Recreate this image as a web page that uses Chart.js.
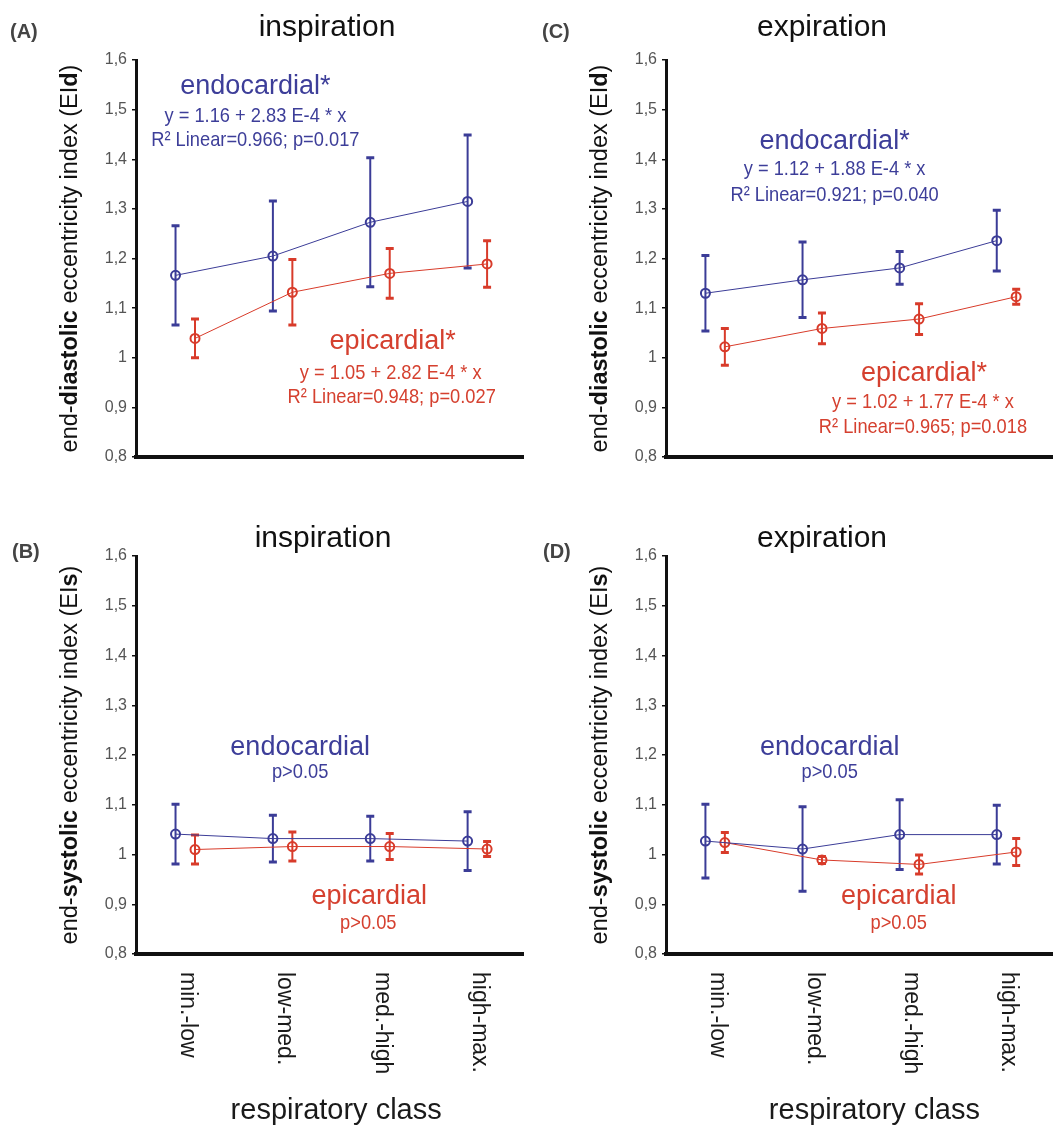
<!DOCTYPE html>
<html>
<head>
<meta charset="utf-8">
<script src="https://cdn.jsdelivr.net/npm/chart.js@4.4.1/dist/chart.umd.min.js"></script>
<style>
  html, body { margin: 0; padding: 0; background: #fff; }
  #wrap { position: relative; width: 1059px; height: 1137px; overflow: hidden; }
  canvas { position: absolute; }
</style>
</head>
<body>
<div id="wrap">
  <canvas id="chartA" width="530" height="520" style="left:0;top:0"></canvas>
  <canvas id="chartC" width="529" height="520" style="left:530px;top:0"></canvas>
  <canvas id="chartB" width="530" height="617" style="left:0;top:520px"></canvas>
  <canvas id="chartD" width="529" height="617" style="left:530px;top:520px"></canvas>
</div>
<script>
const categories = ['min.-low', 'low-med.', 'med.-high', 'high-max.'];
const yTickLabels = ['0,8', '0,9', '1', '1,1', '1,2', '1,3', '1,4', '1,5', '1,6'];

// (A) inspiration, end-diastolic
const inspDiastEndo = [1.166, 1.205, 1.273, 1.315];
const inspDiastEndoErr = [0.100, 0.111, 0.130, 0.134];
const inspDiastEpi = [1.039, 1.132, 1.170, 1.189];
const inspDiastEpiErr = [0.039, 0.066, 0.050, 0.047];

// (C) expiration, end-diastolic
const expDiastEndo = [1.130, 1.157, 1.181, 1.236];
const expDiastEndoErr = [0.076, 0.076, 0.033, 0.061];
const expDiastEpi = [1.022, 1.059, 1.078, 1.123];
const expDiastEpiErr = [0.037, 0.031, 0.031, 0.015];

// (B) inspiration, end-systolic
const inspSystEndo = [1.041, 1.032, 1.032, 1.027];
const inspSystEndoErr = [0.060, 0.047, 0.045, 0.059];
const inspSystEpi = [1.010, 1.016, 1.016, 1.011];
const inspSystEpiErr = [0.029, 0.029, 0.026, 0.015];

// (D) expiration, end-systolic
const expSystEndo = [1.027, 1.011, 1.040, 1.040];
const expSystEndoErr = [0.074, 0.085, 0.070, 0.059];
const expSystEpi = [1.024, 0.989, 0.980, 1.005];
const expSystEpiErr = [0.020, 0.007, 0.019, 0.027];

const SANS = '"Liberation Sans", Arial, Helvetica, sans-serif';
const BLUE = '#3b3c97';
const RED = '#d83b2a';
const BLUE_TXT = '#3d3e99';
const RED_TXT = '#d5402f';
const EPI_SHIFT = 0.2;    // epicardial markers sit a bit right of the category
const LABEL_SHIFT = 0.12;

function points(values, shift) {
  return values.map((v, i) => ({ x: i + 1 + shift, y: v }));
}

// vertical error bars with caps, drawn under the markers
const errorBars = {
  id: 'errorBars',
  beforeDatasetsDraw(chart) {
    const ctx = chart.ctx;
    const ys = chart.scales.y;
    chart.data.datasets.forEach((ds, i) => {
      const meta = chart.getDatasetMeta(i);
      ctx.save();
      ctx.strokeStyle = ds.borderColor;
      meta.data.forEach((pt, j) => {
        const v = ds.data[j].y, e = ds.errors[j];
        const top = ys.getPixelForValue(v + e);
        const bot = ys.getPixelForValue(v - e);
        ctx.lineWidth = 2;
        ctx.beginPath();
        ctx.moveTo(pt.x, top);
        ctx.lineTo(pt.x, bot);
        ctx.stroke();
        ctx.lineWidth = 3;
        ctx.beginPath();
        ctx.moveTo(pt.x - 4, top); ctx.lineTo(pt.x + 4, top);
        ctx.moveTo(pt.x - 4, bot); ctx.lineTo(pt.x + 4, bot);
        ctx.stroke();
      });
      ctx.restore();
    });
  }
};

function decor(cfg) {
  return {
    id: 'decor',
    afterDraw(chart) {
      const ctx = chart.ctx;
      const xs = chart.scales.x, ys = chart.scales.y;
      const area = chart.chartArea;
      ctx.save();

      ctx.fillStyle = '#444';
      ctx.font = 'bold 20px ' + SANS;
      ctx.textAlign = 'left';
      ctx.textBaseline = 'alphabetic';
      ctx.fillText(cfg.letter, cfg.letterX, cfg.letterY);

      ctx.fillStyle = '#111';
      ctx.font = '30px ' + SANS;
      ctx.textAlign = 'center';
      ctx.fillText(cfg.title, cfg.titleX, cfg.titleY);

      // y axis title, partly bold
      const parts = [['end-', ''], [cfg.kind, 'bold '], [' eccentricity index (EI', ''], [cfg.abbr, 'bold '], [')', '']];
      const size = 23.5;
      let total = 0;
      parts.forEach(p => { ctx.font = p[1] + size + 'px ' + SANS; total += ctx.measureText(p[0]).width; });
      ctx.save();
      ctx.translate(77, (area.top + area.bottom) / 2);
      ctx.rotate(-Math.PI / 2);
      ctx.textAlign = 'left';
      let cx = -total / 2;
      parts.forEach(p => {
        ctx.font = p[1] + size + 'px ' + SANS;
        ctx.fillText(p[0], cx, 0);
        cx += ctx.measureText(p[0]).width;
      });
      ctx.restore();

      // annotations
      ctx.textAlign = 'center';
      ctx.textBaseline = 'middle';
      cfg.notes.forEach(n => {
        ctx.save();
        ctx.fillStyle = n.color;
        ctx.font = n.size + 'px ' + SANS;
        ctx.translate(xs.getPixelForValue(n.x), ys.getPixelForValue(n.y));
        if (n.narrow) ctx.scale(0.87, 1);
        ctx.fillText(n.text, 0, 0);
        ctx.restore();
      });

      // category labels, rotated to read top-down
      if (cfg.xLabels) {
        ctx.fillStyle = '#1a1a1a';
        ctx.font = '23px ' + SANS;
        ctx.textAlign = 'left';
        ctx.textBaseline = 'middle';
        categories.forEach((c, i) => {
          ctx.save();
          ctx.translate(xs.getPixelForValue(i + 1 + LABEL_SHIFT), area.bottom + 18);
          ctx.rotate(Math.PI / 2);
          ctx.fillText(c, 0, 0);
          ctx.restore();
        });
        ctx.font = '29px ' + SANS;
        ctx.textAlign = 'center';
        ctx.textBaseline = 'alphabetic';
        ctx.fillText('respiratory class', xs.getPixelForValue(cfg.xTitleAt), 599);
      }
      ctx.restore();
    }
  };
}

function makePanel(id, endo, endoErr, epi, epiErr, cfg) {
  const top = cfg.xLabels ? 36 : 60;
  const bottom = cfg.xLabels ? 183 : 63;
  return new Chart(document.getElementById(id), {
    type: 'line',
    data: {
      datasets: [
        {
          label: 'endocardial',
          data: points(endo, 0),
          errors: endoErr,
          borderColor: BLUE,
          borderWidth: 1,
          pointRadius: 4.5,
          pointBorderWidth: 2,
          pointBackgroundColor: 'rgba(0,0,0,0)',
          pointBorderColor: BLUE,
          tension: 0
        },
        {
          label: 'epicardial',
          data: points(epi, EPI_SHIFT),
          errors: epiErr,
          borderColor: RED,
          borderWidth: 1,
          pointRadius: 4.5,
          pointBorderWidth: 2,
          pointBackgroundColor: 'rgba(0,0,0,0)',
          pointBorderColor: RED,
          tension: 0
        }
      ]
    },
    options: {
      responsive: false,
      animation: false,
      devicePixelRatio: 1,
      layout: { padding: { top: top, bottom: bottom, left: 0, right: 2 } },
      plugins: { legend: { display: false }, tooltip: { enabled: false } },
      scales: {
        x: {
          type: 'linear',
          min: 0.594,
          max: 4.574,
          ticks: { display: false },
          grid: { display: false, drawTicks: false },
          border: { display: true, color: '#111', width: 4 },
          afterFit: s => { s.height = 0; }
        },
        y: {
          min: 0.8,
          max: 1.6,
          ticks: {
            stepSize: 0.1,
            color: '#555',
            padding: 5,
            font: { family: SANS, size: 16 },
            callback: v => yTickLabels[Math.round(v * 10) - 8]
          },
          grid: { drawOnChartArea: false, drawTicks: true, tickLength: 4, color: '#111', lineWidth: 1.5 },
          border: { display: true, color: '#111', width: 3 },
          afterFit: s => { s.width = 136; }
        }
      }
    },
    plugins: [errorBars, decor(cfg)]
  });
}

makePanel('chartA', inspDiastEndo, inspDiastEndoErr, inspDiastEpi, inspDiastEpiErr, {
  letter: '(A)', letterX: 10, letterY: 38,
  title: 'inspiration', titleX: 327, titleY: 36,
  kind: 'diastolic', abbr: 'd', xLabels: false,
  notes: [
    { text: 'endocardial*', x: 1.82, y: 1.546, size: 27, color: BLUE_TXT },
    { text: 'y = 1.16 + 2.83 E-4 * x', x: 1.82, y: 1.487, size: 21, color: BLUE_TXT, narrow: true },
    { text: 'R² Linear=0.966; p=0.017', x: 1.82, y: 1.439, size: 21, color: BLUE_TXT, narrow: true },
    { text: 'epicardial*', x: 3.23, y: 1.032, size: 27, color: RED_TXT },
    { text: 'y = 1.05 + 2.82 E-4 * x', x: 3.21, y: 0.969, size: 21, color: RED_TXT, narrow: true },
    { text: 'R² Linear=0.948; p=0.027', x: 3.22, y: 0.921, size: 21, color: RED_TXT, narrow: true }
  ]
});

makePanel('chartC', expDiastEndo, expDiastEndoErr, expDiastEpi, expDiastEpiErr, {
  letter: '(C)', letterX: 12, letterY: 38,
  title: 'expiration', titleX: 292, titleY: 36,
  kind: 'diastolic', abbr: 'd', xLabels: false,
  notes: [
    { text: 'endocardial*', x: 2.33, y: 1.435, size: 27, color: BLUE_TXT },
    { text: 'y = 1.12 + 1.88 E-4 * x', x: 2.33, y: 1.379, size: 21, color: BLUE_TXT, narrow: true },
    { text: 'R² Linear=0.921; p=0.040', x: 2.33, y: 1.328, size: 21, color: BLUE_TXT, narrow: true },
    { text: 'epicardial*', x: 3.25, y: 0.969, size: 27, color: RED_TXT },
    { text: 'y = 1.02 + 1.77 E-4 * x', x: 3.24, y: 0.911, size: 21, color: RED_TXT, narrow: true },
    { text: 'R² Linear=0.965; p=0.018', x: 3.24, y: 0.860, size: 21, color: RED_TXT, narrow: true }
  ]
});

makePanel('chartB', inspSystEndo, inspSystEndoErr, inspSystEpi, inspSystEpiErr, {
  letter: '(B)', letterX: 12, letterY: 38,
  title: 'inspiration', titleX: 323, titleY: 27,
  kind: 'systolic', abbr: 's', xLabels: true, xTitleAt: 2.65,
  notes: [
    { text: 'endocardial', x: 2.28, y: 1.214, size: 27, color: BLUE_TXT },
    { text: 'p>0.05', x: 2.28, y: 1.166, size: 21, color: BLUE_TXT, narrow: true },
    { text: 'epicardial', x: 2.99, y: 0.915, size: 27, color: RED_TXT },
    { text: 'p>0.05', x: 2.98, y: 0.862, size: 21, color: RED_TXT, narrow: true }
  ]
});

makePanel('chartD', expSystEndo, expSystEndoErr, expSystEpi, expSystEpiErr, {
  letter: '(D)', letterX: 13, letterY: 38,
  title: 'expiration', titleX: 292, titleY: 27,
  kind: 'systolic', abbr: 's', xLabels: true, xTitleAt: 2.74,
  notes: [
    { text: 'endocardial', x: 2.28, y: 1.214, size: 27, color: BLUE_TXT },
    { text: 'p>0.05', x: 2.28, y: 1.166, size: 21, color: BLUE_TXT, narrow: true },
    { text: 'epicardial', x: 2.99, y: 0.915, size: 27, color: RED_TXT },
    { text: 'p>0.05', x: 2.99, y: 0.862, size: 21, color: RED_TXT, narrow: true }
  ]
});
</script>
</body>
</html>
